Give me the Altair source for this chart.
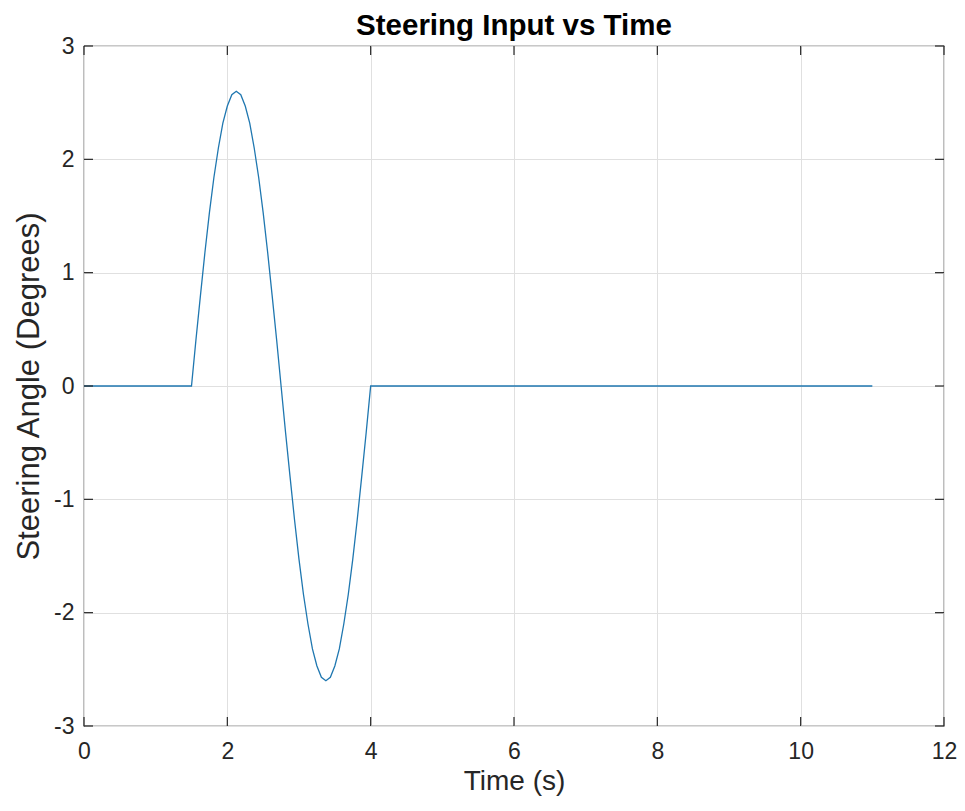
import altair as alt
import pandas as pd

# Steering input trace (s, degrees)
time_s = [0.0, 1.5,
          1.5625, 1.625, 1.6875, 1.75, 1.8125, 1.875, 1.9375, 2.0, 2.0625, 2.125,
          2.1875, 2.25, 2.3125, 2.375, 2.4375, 2.5, 2.5625, 2.625, 2.6875, 2.75,
          2.8125, 2.875, 2.9375, 3.0, 3.0625, 3.125, 3.1875, 3.25, 3.3125, 3.375,
          3.4375, 3.5, 3.5625, 3.625, 3.6875, 3.75, 3.8125, 3.875, 3.9375, 4.0,
          11.0]
angle_deg = [0.0, 0.0,
             0.41, 0.80, 1.18, 1.53, 1.84, 2.10, 2.32, 2.47, 2.57, 2.60,
             2.57, 2.47, 2.32, 2.10, 1.84, 1.53, 1.18, 0.80, 0.41, 0.0,
             -0.41, -0.80, -1.18, -1.53, -1.84, -2.10, -2.32, -2.47, -2.57, -2.60,
             -2.57, -2.47, -2.32, -2.10, -1.84, -1.53, -1.18, -0.80, -0.41, 0.0,
             0.0]

x_ticks = [0, 2, 4, 6, 8, 10, 12]
y_ticks = [-3, -2, -1, 0, 1, 2, 3]
title_text = ["Steering Input vs Time"]

W, H = 860, 680
TICK = 9
FONT = "Liberation Sans"
AX = "#262626"

df = pd.DataFrame({"Time": time_s, "Angle": angle_deg})
xt = pd.DataFrame({"Time": x_ticks})
yt = pd.DataFrame({"Angle": y_ticks})
tt = pd.DataFrame({"label": title_text})

xscale = alt.Scale(domain=[0, 12], nice=False, zero=False)
yscale = alt.Scale(domain=[-3, 3], nice=False, zero=False)

label_expr = "datum.value < 0 ? '-' + abs(datum.value) : '' + datum.value"

xaxis = alt.Axis(values=x_ticks, grid=True, gridColor="#e0e0e0", gridWidth=1,
                 ticks=False, tickSize=0, domain=False,
                 labelExpr=label_expr, labelFlush=False, labelOverlap=False,
                 labelFont=FONT, labelFontSize=23, labelColor=AX,
                 labelBaseline="alphabetic", labelPadding=32,
                 title="Time (s)", titleFont=FONT, titleFontSize=28,
                 titleFontWeight="normal", titleColor=AX,
                 titleBaseline="alphabetic", titleY=63)
yaxis = alt.Axis(values=y_ticks, grid=True, gridColor="#e0e0e0", gridWidth=1,
                 ticks=False, tickSize=0, domain=False,
                 labelExpr=label_expr, labelFlush=False, labelOverlap=False,
                 labelFont=FONT, labelFontSize=23, labelColor=AX,
                 labelPadding=10,
                 title="Steering Angle (Degrees)", titleFont=FONT, titleFontSize=31,
                 titleFontWeight="normal", titleColor=AX,
                 titleBaseline="middle", titleX=-55)

line = alt.Chart(df).mark_line(color="#1f77b0", strokeWidth=1.3).encode(
    x=alt.X("Time:Q", scale=xscale, axis=xaxis),
    y=alt.Y("Angle:Q", scale=yscale, axis=yaxis),
    order=alt.Order("Time:Q"),
)

tick_style = dict(color=AX, strokeWidth=1.2)
bottom_ticks = alt.Chart(xt).mark_rule(**tick_style).encode(
    x=alt.X("Time:Q", scale=xscale, axis=xaxis), y=alt.value(H), y2=alt.value(H - TICK))
top_ticks = alt.Chart(xt).mark_rule(**tick_style).encode(
    x=alt.X("Time:Q", scale=xscale, axis=xaxis), y=alt.value(0), y2=alt.value(TICK))
left_ticks = alt.Chart(yt).mark_rule(**tick_style).encode(
    y=alt.Y("Angle:Q", scale=yscale, axis=yaxis), x=alt.value(0), x2=alt.value(TICK))
right_ticks = alt.Chart(yt).mark_rule(**tick_style).encode(
    y=alt.Y("Angle:Q", scale=yscale, axis=yaxis), x=alt.value(W), x2=alt.value(W - TICK))

title = alt.Chart(tt).mark_text(font=FONT, fontSize=29.5, fontWeight="bold",
                                color="#000000", align="center",
                                baseline="alphabetic").encode(
    text="label:N", x=alt.value(W / 2), y=alt.value(-11))

chart = alt.layer(line, bottom_ticks, top_ticks, left_ticks, right_ticks, title).properties(
    width=W, height=H,
    background="white",
    autosize=alt.AutoSizeParams(type="none"),
    padding={"left": 76, "top": 38, "right": 13, "bottom": 77},
).configure_view(stroke=AX, strokeWidth=1.2)

chart.save("out.html", embed_options={"renderer": "svg", "actions": False})
